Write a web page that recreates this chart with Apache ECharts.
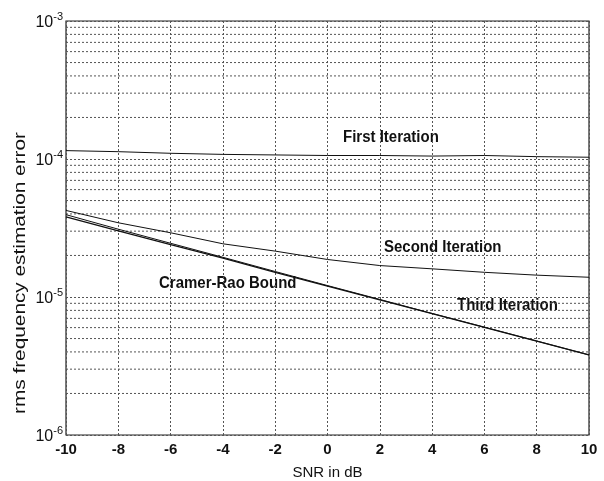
<!DOCTYPE html>
<html>
<head>
<meta charset="utf-8">
<script src="https://cdn.jsdelivr.net/npm/echarts@6/dist/echarts.min.js"></script>
<style>
  html, body { margin: 0; padding: 0; background: #fff; }
  #main { width: 604px; height: 481px; }
</style>
</head>
<body>
<div id="main"></div>
<script>
// SNR in dB
var snr = [-10, -8, -6, -4, -2, 0, 2, 4, 6, 8, 10];
// rms frequency estimation error
var firstIter  = [1.15e-4, 1.13e-4, 1.10e-4, 1.08e-4, 1.07e-4, 1.06e-4, 1.06e-4, 1.05e-4, 1.06e-4, 1.04e-4, 1.03e-4];
var secondIter = [4.24e-5, 3.45e-5, 2.92e-5, 2.43e-5, 2.15e-5, 1.87e-5, 1.69e-5, 1.60e-5, 1.51e-5, 1.44e-5, 1.39e-5];
var thirdIter  = [3.95e-5, 3.10e-5, 2.45e-5, 1.94e-5, 1.53e-5, 1.21e-5, 9.6e-6, 7.6e-6, 6.05e-6, 4.8e-6, 3.8e-6];
var crBound    = [3.80e-5, 3.02e-5, 2.40e-5, 1.91e-5, 1.51e-5, 1.20e-5, 9.55e-6, 7.59e-6, 6.03e-6, 4.79e-6, 3.80e-6];
var decades = [1e-6, 1e-5, 1e-4];
var minorSteps = [2, 3, 4, 5, 6, 7, 8, 9];

function pairs(ys) {
  return snr.map(function (x, i) { return [x, ys[i]]; });
}

var font = 'Liberation Sans, Arial, sans-serif';
var lineStyle = { color: '#111', width: 1 };
var gridDash = { color: '#555', type: [2, 2], width: 1 };

// minor grid lines of the log axis (2..9 in every decade)
var minorSeries = [];
decades.forEach(function (d) {
  minorSteps.forEach(function (m) {
    minorSeries.push({
      type: 'line', silent: true, showSymbol: false, z: 1,
      data: [[-10, d * m], [10, d * m]],
      lineStyle: gridDash
    });
  });
});

function label(txt, x, yc) {
  return {
    type: 'text', x: x, y: yc, scaleY: 1.1,
    style: { text: txt, font: 'bold 15px ' + font, fill: '#111', verticalAlign: 'middle' }
  };
}

var chart = echarts.init(document.getElementById('main'));
var option = {
  backgroundColor: '#fff',
  animation: false,
  textStyle: { fontFamily: font },
  grid: {
    left: 66, right: 15, top: 21, bottom: 46,
    outerBoundsMode: 'none', containLabel: false,
    show: true, borderColor: '#222', borderWidth: 1.2
  },
  xAxis: {
    type: 'value', min: -10, max: 10, interval: 2,
    name: 'SNR in dB', nameLocation: 'middle', nameGap: 30,
    nameTextStyle: { color: '#111', fontSize: 15, fontFamily: font },
    axisLine: { show: false },
    axisTick: { show: false },
    axisLabel: { color: '#111', fontSize: 15, fontWeight: 'bold', fontFamily: font, margin: 7 },
    splitLine: { show: true, lineStyle: gridDash }
  },
  yAxis: {
    type: 'log', min: 1e-6, max: 1e-3, logBase: 10,
    axisLine: { show: false },
    axisTick: { show: false },
    axisLabel: {
      margin: 3,
      formatter: function (v) {
        var e = Math.round(Math.log10(v));
        return '{b|10}{s|' + e + '}';
      },
      rich: {
        b: { fontSize: 16, color: '#111', fontFamily: font, verticalAlign: 'bottom' },
        s: { fontSize: 11, color: '#111', fontFamily: font, verticalAlign: 'bottom', padding: [0, 0, 9, 0] }
      }
    },
    splitLine: { show: true, lineStyle: gridDash }
  },
  series: minorSeries.concat([
    { name: 'First Iteration', type: 'line', data: pairs(firstIter), showSymbol: false, lineStyle: lineStyle, z: 3 },
    { name: 'Second Iteration', type: 'line', data: pairs(secondIter), showSymbol: false, lineStyle: lineStyle, z: 3 },
    { name: 'Third Iteration', type: 'line', data: pairs(thirdIter), showSymbol: false, lineStyle: lineStyle, z: 3 },
    { name: 'Cramer-Rao Bound', type: 'line', data: pairs(crBound), showSymbol: false, lineStyle: { color: '#111', width: 1.3 }, z: 3 }
  ]),
  graphic: [
    label('First Iteration', 343, 137),
    label('Second Iteration', 384, 247),
    label('Cramer-Rao Bound', 159, 283),
    label('Third Iteration', 457, 305),
    {
      // y axis title, stretched along its length as in the scanned figure
      type: 'text', x: 21, y: 273, rotation: Math.PI / 2, scaleX: 1.3,
      style: {
        text: 'rms frequency estimation error', font: '16px ' + font,
        fill: '#111', align: 'center', verticalAlign: 'middle'
      }
    }
  ]
};
chart.setOption(option);
</script>
</body>
</html>
